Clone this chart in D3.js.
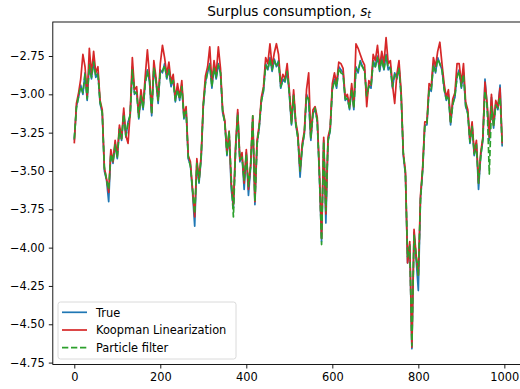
<!DOCTYPE html>
<html>
<head>
<meta charset="utf-8">
<script src="https://cdn.jsdelivr.net/npm/d3@7"></script>
<style>
  body { margin: 0; background: #fff; }
  svg { display: block; font-family: "DejaVu Sans", sans-serif; }
</style>
</head>
<body>
<svg width="520" height="389"></svg>
<script>
// time index, one value read every 5 steps
const steps = d3.range(0, 1000, 5);

const trueS = [
  -3.30,-3.08,-3.02,-2.94,-3.00,-2.86,-3.04,-2.80,-2.90,-2.78,-2.89,-2.86,-3.06,-3.12,-3.50,-3.56,-3.70,-3.38,-3.45,-3.32,
  -3.42,-3.22,-3.30,-3.12,-3.28,-3.18,-3.14,-2.82,-3.00,-2.98,-3.16,-3.00,-3.10,-2.92,-2.84,-2.92,-3.14,-2.82,-2.92,-3.06,
  -2.84,-2.86,-2.80,-2.90,-2.83,-2.95,-2.90,-3.05,-2.96,-3.04,-2.94,-3.16,-3.10,-3.42,-3.46,-3.64,-3.86,-3.44,-3.58,-3.42,
  -3.08,-2.92,-2.86,-2.80,-2.96,-2.82,-2.90,-2.80,-2.86,-3.12,-3.18,-3.40,-3.25,-3.62,-3.74,-3.36,-3.12,-3.44,-3.40,-3.62,
  -3.38,-3.66,-3.48,-3.16,-3.72,-3.32,-3.22,-3.04,-2.98,-2.80,-2.84,-2.76,-2.85,-2.77,-2.82,-2.78,-2.96,-2.90,-2.92,-2.84,
  -3.00,-3.20,-3.00,-3.20,-3.28,-3.54,-3.34,-3.26,-3.00,-3.04,-3.30,-3.12,-3.10,-3.17,-3.54,-3.96,-3.30,-3.84,-3.30,-3.24,
  -2.96,-2.90,-2.96,-2.82,-2.84,-2.86,-3.04,-3.02,-3.10,-2.96,-3.10,-2.82,-2.86,-2.78,-2.82,-2.84,-3.02,-2.94,-2.96,-2.78,
  -2.82,-2.75,-2.85,-2.76,-2.84,-2.74,-2.84,-2.82,-2.96,-2.86,-2.90,-2.82,-3.00,-3.40,-3.52,-4.10,-3.98,-4.66,-3.90,-4.08,
  -4.28,-3.68,-3.50,-3.20,-3.20,-2.96,-2.98,-2.80,-2.86,-2.76,-2.80,-2.84,-2.96,-3.04,-3.00,-3.20,-3.06,-3.02,-2.88,-2.84,
  -2.96,-2.86,-3.08,-3.12,-3.32,-3.20,-3.40,-3.32,-3.62,-3.40,-3.30,-2.90,-3.08,-3.30,-3.02,-3.22,-3.06,-3.10,-2.94,-3.34
];

const koopman = [
  -3.32,-3.06,-2.99,-2.90,-2.74,-2.82,-3.02,-2.70,-2.87,-2.72,-2.86,-2.82,-3.04,-3.10,-3.48,-3.55,-3.64,-3.36,-3.44,-3.30,
  -3.40,-3.20,-3.29,-3.09,-3.27,-3.32,-3.12,-2.76,-2.97,-2.95,-3.14,-2.97,-3.08,-2.88,-2.71,-2.88,-3.12,-2.78,-2.89,-3.04,
  -2.80,-2.68,-2.76,-2.87,-2.79,-2.92,-2.87,-3.03,-2.93,-3.02,-2.91,-3.14,-3.08,-3.40,-3.44,-3.62,-3.80,-3.42,-3.56,-3.40,
  -3.06,-2.88,-2.82,-2.69,-2.93,-2.78,-2.87,-2.69,-2.83,-3.10,-3.17,-3.38,-3.24,-3.58,-3.72,-3.34,-3.10,-3.42,-3.38,-3.58,
  -3.36,-3.62,-3.46,-3.14,-3.70,-3.30,-3.20,-3.02,-2.95,-2.76,-2.80,-2.67,-2.82,-2.73,-2.67,-2.74,-2.93,-2.87,-2.90,-2.80,
  -2.97,-3.18,-2.97,-3.18,-3.26,-3.50,-3.32,-3.24,-2.97,-2.86,-3.28,-3.10,-3.08,-3.15,-3.50,-3.94,-3.28,-3.78,-3.28,-3.22,
  -2.93,-2.86,-2.93,-2.79,-2.80,-2.83,-3.02,-3.00,-3.08,-2.93,-3.08,-2.67,-2.70,-2.74,-2.78,-2.81,-3.08,-2.91,-2.94,-2.74,
  -2.78,-2.68,-2.82,-2.72,-2.80,-2.63,-2.80,-2.78,-2.94,-3.06,-2.87,-2.78,-2.98,-3.38,-3.50,-4.10,-3.96,-4.65,-3.88,-4.05,
  -4.18,-3.66,-3.48,-3.18,-3.18,-2.93,-2.95,-2.76,-2.82,-2.72,-2.66,-2.80,-2.93,-3.02,-2.97,-3.18,-3.03,-2.99,-2.80,-2.80,
  -2.93,-2.80,-3.05,-3.10,-3.30,-3.18,-3.38,-3.30,-3.58,-3.38,-3.28,-2.92,-3.06,-3.28,-3.00,-3.20,-3.04,-3.08,-2.96,-3.32
];

const particle = [
  -3.29,-3.09,-3.01,-2.95,-2.99,-2.87,-3.03,-2.81,-2.89,-2.79,-2.88,-2.87,-3.05,-3.12,-3.48,-3.56,-3.62,-3.39,-3.44,-3.33,
  -3.41,-3.23,-3.29,-3.13,-3.27,-3.19,-3.13,-2.84,-2.99,-2.99,-3.15,-3.01,-3.09,-2.93,-2.85,-2.91,-3.13,-2.83,-2.91,-3.04,
  -2.85,-2.85,-2.81,-2.89,-2.84,-2.94,-2.91,-3.04,-2.97,-3.03,-2.95,-3.15,-3.11,-3.41,-3.47,-3.62,-3.78,-3.45,-3.57,-3.41,
  -3.07,-2.93,-2.85,-2.81,-2.95,-2.83,-2.89,-2.81,-2.86,-3.11,-3.19,-3.39,-3.24,-3.55,-3.80,-3.37,-3.13,-3.43,-3.41,-3.56,
  -3.39,-3.60,-3.47,-3.14,-3.70,-3.33,-3.21,-3.05,-2.97,-2.81,-2.84,-2.77,-2.84,-2.78,-2.82,-2.79,-2.95,-2.91,-2.91,-2.85,
  -2.99,-3.19,-3.01,-3.19,-3.29,-3.50,-3.35,-3.25,-3.01,-3.03,-3.29,-3.13,-3.09,-3.18,-3.53,-3.98,-3.31,-3.76,-3.31,-3.23,
  -2.97,-2.91,-2.95,-2.83,-2.86,-2.87,-3.03,-3.03,-3.09,-2.97,-3.09,-2.83,-2.85,-2.79,-2.82,-2.85,-3.01,-2.95,-2.95,-2.79,
  -2.82,-2.76,-2.84,-2.77,-2.84,-2.75,-2.83,-2.83,-2.95,-2.87,-2.89,-2.83,-3.01,-3.38,-3.52,-4.06,-3.99,-4.64,-3.92,-4.06,
  -4.18,-3.69,-3.49,-3.21,-3.19,-2.97,-2.97,-2.81,-2.85,-2.77,-2.80,-2.84,-2.97,-3.03,-3.01,-3.19,-3.07,-3.01,-2.89,-2.85,
  -2.95,-2.87,-3.07,-3.13,-3.31,-3.21,-3.39,-3.33,-3.58,-3.41,-3.29,-2.98,-3.07,-3.52,-3.08,-3.21,-3.07,-3.09,-3.02,-3.33
];

const xTicks = [0, 200, 400, 600, 800, 1000];
const yTicks = [-2.75, -3.00, -3.25, -3.50, -3.75, -4.00, -4.25, -4.50, -4.75];
const seriesNames = ['True', 'Koopman Linearization', 'Particle filter'];
const colors = ['#1f77b4', '#d62728', '#2ca02c'];

const svg = d3.select('svg');
const mLeft = 52.8, mRight = 525.4, mTop = 22, mBottom = 364.5;

const x = d3.scaleLinear().domain([-49.95, 1048.95]).range([mLeft, mRight]);
const y = d3.scaleLinear().domain([-4.7624, -2.5282]).range([mBottom, mTop]);

// title
const title = svg.append('text')
  .attr('x', (mLeft + mRight) / 2)
  .attr('y', 15.5)
  .attr('text-anchor', 'middle')
  .style('font-size', '13.7px');
title.append('tspan').text('Surplus consumption, ');
title.append('tspan').style('font-style', 'italic').text('s');
title.append('tspan').style('font-style', 'italic').style('font-size', '9.6px')
  .attr('dy', 2.5).text('t');

const plot = svg.append('g');
const lineOf = vals => d3.line()
  .x((d, i) => x(steps[i]))
  .y(d => y(d))(vals);

[trueS, koopman, particle].forEach((vals, k) => {
  plot.append('path')
    .attr('d', lineOf(vals))
    .attr('fill', 'none')
    .attr('stroke', colors[k])
    .attr('stroke-width', 1.7)
    .attr('stroke-linejoin', 'round')
    .attr('stroke-dasharray', k === 2 ? '6.3,2.7' : null);
});

// axes
const xAxis = svg.append('g')
  .attr('transform', `translate(0,${mBottom})`)
  .call(d3.axisBottom(x).tickValues(xTicks).tickFormat(d3.format('d')).tickSize(4).tickPadding(4));
const yAxis = svg.append('g')
  .attr('transform', `translate(${mLeft},0)`)
  .call(d3.axisLeft(y).tickValues(yTicks).tickFormat(d3.format('.2f')).tickSize(4).tickPadding(4));

[xAxis, yAxis].forEach(a => {
  a.select('.domain').remove();
  a.selectAll('line').attr('stroke', '#000').attr('stroke-width', 0.9);
  a.selectAll('text').style('font-size', '11.4px').attr('fill', '#000')
    .style('font-family', '"DejaVu Sans", sans-serif');
});

svg.append('rect')
  .attr('x', mLeft).attr('y', mTop)
  .attr('width', mRight - mLeft).attr('height', mBottom - mTop)
  .attr('fill', 'none').attr('stroke', '#000').attr('stroke-width', 0.9);

// legend
const legend = svg.append('g');
legend.append('rect')
  .attr('x', 58).attr('y', 302).attr('width', 178).attr('height', 57)
  .attr('rx', 2.5)
  .attr('fill', 'rgba(255,255,255,0.8)')
  .attr('stroke', '#d6d6d6').attr('stroke-width', 0.9);

seriesNames.forEach((name, k) => {
  const cy = 312.3 + k * 17.7;
  legend.append('line')
    .attr('x1', 62).attr('x2', 87).attr('y1', cy).attr('y2', cy)
    .attr('stroke', colors[k]).attr('stroke-width', 1.7)
    .attr('stroke-dasharray', k === 2 ? '6.3,2.7' : null);
  legend.append('text')
    .attr('x', 96).attr('y', cy + 4.2)
    .style('font-size', '11.4px')
    .text(name);
});
</script>
</body>
</html>
